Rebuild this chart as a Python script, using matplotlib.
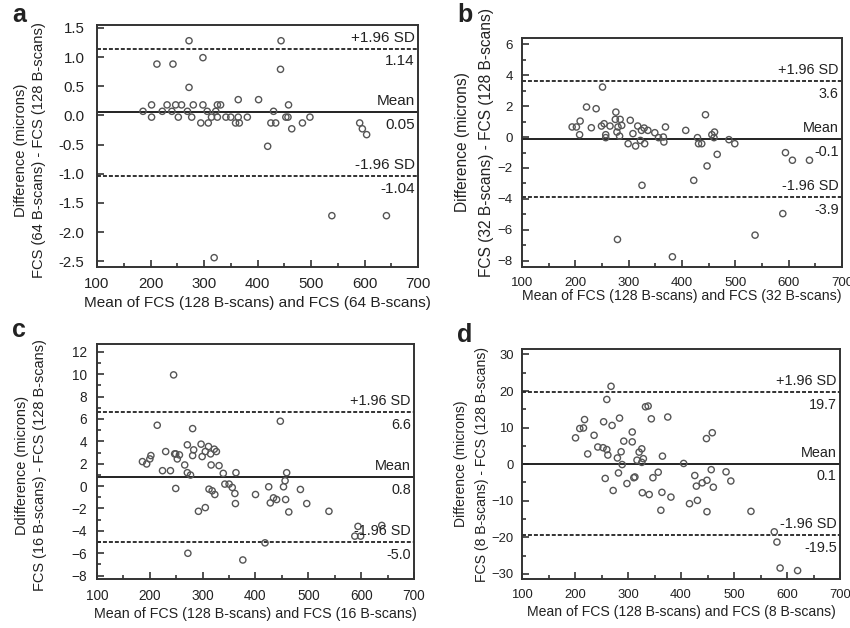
import matplotlib
matplotlib.use("Agg")
import matplotlib.pyplot as plt
from matplotlib.ticker import MultipleLocator

plt.rcParams["font.family"] = ["Liberation Sans", "DejaVu Sans"]
plt.rcParams["font.size"] = 11

# panel a: 64 vs 128 B-scans
a_x = [272, 444, 212, 242, 298, 443, 272, 186, 202, 202, 222, 231, 240, 247, 252,
       258, 269, 277, 280, 294, 298, 306, 308, 314, 322, 325, 331, 325, 341, 350,
       359, 364, 364, 366, 381, 402, 419, 425, 430, 434, 453, 458, 457, 464, 484,
       498, 591, 596, 604, 539, 641, 319]
a_y = [1.28, 1.28, 0.88, 0.88, 0.99, 0.79, 0.48, 0.07, 0.18, -0.03, 0.07, 0.18, 0.07,
       0.18, -0.03, 0.18, 0.07, -0.03, 0.18, -0.13, 0.18, 0.07, -0.13, -0.03, 0.07,
       0.18, 0.18, -0.03, -0.03, -0.03, -0.13, -0.03, 0.27, -0.13, -0.03, 0.27, -0.53,
       -0.13, 0.07, -0.13, -0.03, 0.18, -0.03, -0.23, -0.13, -0.03, -0.13, -0.23,
       -0.33, -1.72, -1.72, -2.44]

# panel b: 32 vs 128 B-scans
b_x = [194, 202, 209, 208, 221, 230, 239, 251, 249, 254, 257, 257, 265, 276, 275,
       278, 280, 284, 287, 283, 303, 299, 308, 313, 317, 322, 324, 329, 330, 336,
       349, 356, 365, 366, 369, 325, 279, 382, 407, 422, 429, 431, 437, 444, 447,
       456, 461, 460, 466, 488, 499, 594, 607, 639, 589, 537]
b_y = [0.65, 0.65, 1.03, 0.15, 1.94, 0.6, 1.83, 3.23, 0.71, 0.86, 0.15, -0.04, 0.71,
       1.61, 1.14, 0.32, 0.65, 1.14, 0.75, 0.06, 1.08, -0.43, 0.22, -0.58, 0.71,
       -0.22, 0.43, 0.58, -0.43, 0.43, 0.28, -0.04, 0.0, -0.32, 0.65, -3.12, -6.62,
       -7.74, 0.43, -2.8, -0.04, -0.43, -0.43, 1.44, -1.87, 0.15, 0.32, -0.04, -1.12,
       -0.17, -0.43, -1.01, -1.5, -1.5, -4.95, -6.34]

# panel c: 16 vs 128 B-scans
c_x = [245, 214, 281, 447, 186, 194, 200, 202, 230, 224, 239, 247, 249, 252, 256,
       249, 266, 271, 271, 277, 281, 283, 297, 299, 305, 311, 315, 316, 322, 326,
       312, 318, 323, 292, 305, 331, 339, 342, 350, 356, 361, 362, 363, 376, 272,
       400, 425, 428, 434, 440, 453, 456, 459, 457, 463, 485, 497, 539, 418, 594,
       588, 599, 639]
c_y = [9.94, 5.44, 5.14, 5.8, 2.19, 1.98, 2.43, 2.73, 3.09, 1.38, 1.38, 2.88, 2.88,
       2.43, 2.79, -0.21, 1.89, 3.69, 1.2, 0.99, 2.73, 3.24, 3.75, 2.64, 3.09, 3.54,
       2.88, 1.89, 3.3, 3.09, -0.27, -0.42, -0.75, -2.25, -1.92, 1.83, 1.14, 0.18,
       0.18, -0.12, -0.66, -1.56, 1.2, -6.6, -6.0, -0.75, -0.06, -1.5, -1.05, -1.2,
       -0.06, 0.48, 1.2, -1.2, -2.31, -0.3, -1.56, -2.25, -5.07, -3.6, -4.47, -4.47,
       -3.51]

# panel d: 8 vs 128 B-scans
d_x = [268, 260, 201, 209, 216, 218, 224, 236, 243, 253, 254, 260, 262, 270, 280,
       284, 287, 289, 292, 282, 257, 272, 298, 308, 308, 311, 313, 317, 321, 326,
       329, 327, 333, 338, 344, 340, 347, 357, 362, 364, 365, 375, 381, 405, 416,
       426, 429, 431, 440, 448, 459, 449, 449, 457, 461, 485, 494, 532, 576, 581,
       587, 620, 326]
d_y = [21.3, 17.7, 7.2, 9.75, 9.9, 12.2, 2.8, 7.9, 4.7, 4.5, 11.6, 4.0, 2.5, 10.6,
       1.7, 12.6, 3.4, -0.1, 6.3, -2.4, -3.9, -7.2, -5.3, 8.8, 6.1, -3.7, -3.5, 1.1,
       3.3, 4.2, 1.5, -7.8, 15.7, 15.9, 12.4, -8.3, -3.7, -2.2, -12.6, -7.7, 2.2,
       12.9, -9.0, 0.2, -10.8, -3.1, -6.0, -9.9, -5.1, 7.0, 8.6, -4.4, -13.0, -1.5,
       -6.3, -2.1, -4.6, -12.9, -18.5, -21.3, -28.4, -29.1, 0.5]

means = [0.05, -0.15, 0.8, 0.1]
uppers = [1.14, 3.6, 6.6, 19.7]
lowers = [-1.04, -3.9, -5.0, -19.5]
mean_txt = ["0.05", "-0.1", "0.8", "0.1"]
upper_txt = ["1.14", "3.6", "6.6", "19.7"]
lower_txt = ["-1.04", "-3.9", "-5.0", "-19.5"]
scans = ["64", "32", "16", "8"]
letters = ["a", "b", "c", "d"]
ylab1 = ["Difference (microns)", "Difference (microns)",
         "Ddifference (microns)", "Difference (microns)"]

xs = [a_x, b_x, c_x, d_x]
ys = [a_y, b_y, c_y, d_y]

ink = "#222222"
W, H = 850, 628
# axes boxes in pixels: left, top, right, bottom
boxes = [(97, 25, 418, 267), (522, 38, 842, 267),
         (97, 344, 414, 579), (522, 349, 840, 579)]
ylims = [(-2.6, 1.55), (-8.4, 6.4), (-8.3, 12.7), (-31.4, 31.5)]
yticks = [(0.5, None), (2, 1), (2, 1), (10, 5)]
letter_pos = [(12, 22), (457, 22), (12, 337), (457, 342)]
# per-panel text sizes (the source panels were scaled differently)
tick_fs = [10.8, 9.6, 9.8, 9.4]
ytick_pad = [9, 6.5, 7, 6]
xlab_fs = [11.1, 10.2, 10.3, 10.1]
xlab_pad = [4, 0, 3, 3]
note_fs = [11, 10.4, 10.4, 10.4]
# y label: font size, x centre of line 1, x centre of line 2, y centre (px)
ylab_fs = [10.6, 11.2, 10.45, 10.1]
ylab_geo = [(21, 39, 150), (463, 486, 142), (22, 40, 465), (461, 482, 464)]

fig = plt.figure(figsize=(W / 100, H / 100), dpi=100)

for i in range(4):
    l, t, r, b = boxes[i]
    ax = fig.add_axes([l / W, 1 - b / H, (r - l) / W, (b - t) / H])
    ax.scatter(xs[i], ys[i], s=20, facecolors="none", edgecolors="#555555",
               linewidths=1.0, zorder=3)
    ax.axhline(means[i], color=ink, lw=1.4)
    ax.axhline(uppers[i], color=ink, lw=1.3, linestyle=(0, (2.2, 1.1)))
    ax.axhline(lowers[i], color=ink, lw=1.3, linestyle=(0, (2.2, 1.1)))

    tr = ax.get_yaxis_transform()
    for val, top, bot in [(uppers[i], "+1.96 SD", upper_txt[i]),
                          (means[i], "Mean", mean_txt[i]),
                          (lowers[i], "-1.96 SD", lower_txt[i])]:
        ax.annotate(top, xy=(0.99, val), xycoords=tr, xytext=(0, 3),
                    textcoords="offset points", ha="right", va="bottom",
                    color=ink, fontsize=note_fs[i])
        ax.annotate(bot, xy=(0.99, val), xycoords=tr, xytext=(0, -4),
                    textcoords="offset points", ha="right", va="top",
                    color=ink, fontsize=note_fs[i])

    ax.set_xlim(100, 700)
    ax.set_ylim(*ylims[i])
    ax.xaxis.set_major_locator(MultipleLocator(100))
    ax.xaxis.set_minor_locator(MultipleLocator(50))
    major, minor = yticks[i]
    ax.yaxis.set_major_locator(MultipleLocator(major))
    if minor:
        ax.yaxis.set_minor_locator(MultipleLocator(minor))
    if i == 0:
        ax.yaxis.set_major_formatter(lambda v, p: f"{v:.1f}")
    ax.tick_params(which="both", direction="in", top=False, right=False,
                   colors=ink, labelsize=tick_fs[i], width=1.1)
    ax.tick_params(which="major", length=5)
    ax.tick_params(which="minor", length=3)
    ax.tick_params(axis="y", pad=ytick_pad[i])
    ax.tick_params(axis="x", pad=7)
    for sp in ax.spines.values():
        sp.set_linewidth(1.4)
        sp.set_color("#333333")

    ax.set_xlabel(f"Mean of FCS (128 B-scans) and FCS ({scans[i]} B-scans)",
                  fontsize=xlab_fs[i], color=ink, labelpad=xlab_pad[i])

    # two-line y label, drawn as two texts
    x1, x2, yc = ylab_geo[i]
    fig.text(x1 / W, 1 - yc / H, ylab1[i], rotation=90, ha="center",
             va="center", fontsize=ylab_fs[i], color=ink)
    fig.text(x2 / W, 1 - yc / H, f"FCS ({scans[i]} B-scans) - FCS (128 B-scans)",
             rotation=90, ha="center", va="center", fontsize=ylab_fs[i], color=ink)

    lx, ly = letter_pos[i]
    fig.text(lx / W, 1 - ly / H, letters[i], fontsize=18, fontweight="bold",
             color=ink, ha="left", va="baseline")

fig.savefig("out.png", dpi=100, facecolor="white")
